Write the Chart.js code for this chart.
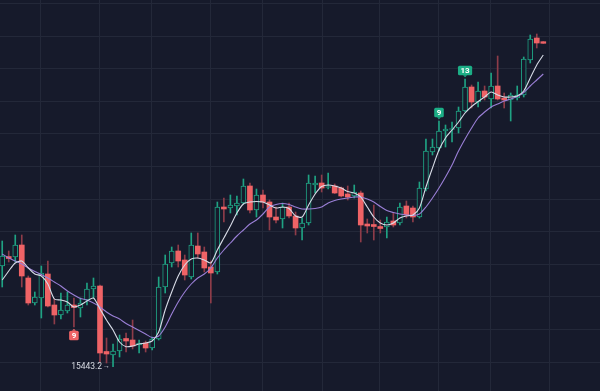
<!DOCTYPE html>
<html>
<head>
<meta charset="utf-8">
<script src="https://cdn.jsdelivr.net/npm/chart.js@4.4.0/dist/chart.umd.min.js"></script>
<style>
html,body{margin:0;padding:0;background:#161a2b;}
#wrap{width:600px;height:391px;}
</style>
</head>
<body>
<div id="wrap"><canvas id="kline" width="600" height="391"></canvas></div>
<script>
// candles (index 0..83), prices
const opens=[16450,16545,16540,16660,16330,16080,16130,16370,16060,15960,
  16000,16060,16030,16110,16220,16250,15595,15560,15600,15725,
  15710,15660,15680,15630,15720,16240,16480,16600,16510,16340,
  16650,16590,16440,16390,17040,17030,17050,17080,17250,17010,
  17160,17090,16940,16920,17040,16950,16830,16880,17260,17280,
  17235,17250,17230,17170,17150,17180,16870,16865,16845,16840,
  16900,16880,17050,17030,16940,17220,17590,17630,17800,17815,
  17830,18000,18240,18090,18200,18120,18250,18130,18110,18130,
  18160,18510,18730,18693];
const highs=[16700,16600,16760,16760,16350,16190,16450,16500,16120,16180,
  16190,16130,16130,16280,16330,16260,15730,15670,15760,15780,
  15910,15710,15700,15740,16340,16560,16640,16660,16560,16780,
  16780,16640,16500,17090,17130,17160,17150,17320,17280,17220,
  17210,17110,17040,17080,17080,16990,16930,17360,17350,17360,
  17380,17270,17240,17250,17260,17200,16920,17060,16910,16940,
  16980,17080,17100,17050,17290,17720,17720,17900,17860,17890,
  18040,18320,18260,18290,18250,18380,18550,18180,18180,18250,
  18540,18760,18770,18695];
const lows=[16240,16490,16490,16240,16060,16060,15930,16040,15870,15920,
  15980,15840,15940,16060,16130,15490,15480,15443.2,15540,15590,
  15620,15580,15590,15610,15710,16180,16440,16440,16310,16320,
  16530,16390,16080,16370,16890,16980,16960,17070,16980,16940,
  17030,16810,16880,16830,16930,16760,16710,16860,17180,17190,
  17220,17175,17140,17110,17130,16690,16780,16710,16780,16730,
  16840,16860,16930,16890,16930,17200,17560,17600,17640,17690,
  17780,17990,18030,18040,18110,18030,18110,18030,17900,18110,
  18140,18480,18630,18675];
const closes=[16550,16525,16660,16350,16080,16140,16380,16050,15960,16010,
  16060,16035,16080,16220,16250,15580,15570,15600,15720,15700,
  15650,15680,15630,15720,16240,16470,16600,16500,16360,16660,
  16570,16430,16380,17040,17020,17060,17080,17250,17010,17160,
  17090,16940,16910,17040,16950,16830,16880,17280,17280,17230,
  17245,17180,17150,17140,17190,16860,16850,16845,16825,16890,
  16860,17040,16960,16940,17230,17600,17640,17800,17820,17825,
  18000,18240,18090,18200,18140,18250,18120,18110,18160,18160,
  18520,18720,18680,18677];
// moving averages (white = fast, purple = slow)
const maFast=[16310,16400,16480,16500,16430,16370,16350,16270,16120,16110,
  16090,16040,16060,16100,16130,16020,15910,15810,15690,15643,
  15650,15670,15680,15700,15790,16010,16190,16350,16460,16520,
  16530,16510,16480,16610,16730,16850,16980,17070,17090,17095,
  17090,17060,17030,17040,17025,16950,16940,17060,17170,17245,
  17260,17250,17230,17195,17180,17140,17040,16940,16880,16860,
  16880,16930,16950,16960,17030,17240,17430,17610,17730,17810,
  17890,17980,18045,18095,18140,18190,18160,18140,18140,18150,
  18200,18330,18460,18560];
const maSlow=[16570,16530,16500,16470,16430,16395,16365,16330,16290,16250,
  16200,16160,16125,16110,16080,16040,15990,15950,15920,15875,
  15840,15805,15770,15735,15750,15840,15970,16090,16190,16270,
  16330,16370,16430,16530,16610,16680,16750,16810,16870,16910,
  16970,17040,17065,17075,17065,17040,17020,17020,17025,17040,
  17080,17105,17120,17130,17140,17140,17120,17090,17045,17005,
  16985,16970,16960,16955,16970,17040,17130,17230,17340,17460,
  17600,17720,17830,17930,17990,18040,18070,18100,18120,18145,
  18185,18250,18310,18370];
// grid positions
const xGrid=[5.9,14.9,22.9,32,39.9,49.1,57.8,66.9,74.9,83.9];
const yGrid=[15490,15816,16142,16468,16794,17120,17446,17772,18098,18424,18750,19076];
// sequence markers
const markIdx=[11,67,71];
const markText=['9','9','13'];
const markUp=[false,true,true];

const BG='#161a2b', GRID='#232839', UP='#1fa283', DOWN='#ef6366', DOWN_WICK='#8e3c49';
const isUp=i=>closes[i]>=opens[i];

const bodies=opens.map((o,i)=>({x:i,y:[o,closes[i]]}));
const wicks=lows.map((l,i)=>({x:i,y:[l,highs[i]]}));

const bgPlugin={id:'bg',beforeDraw(ch){const c=ch.ctx;c.save();c.fillStyle=BG;c.fillRect(0,0,ch.width,ch.height);c.restore();}};

const marks={id:'marks',afterDatasetsDraw(ch){
  const {ctx,scales:{x,y}}=ch;
  ctx.save();
  ctx.font='bold 8px Roboto';ctx.textAlign='center';ctx.textBaseline='middle';
  markIdx.forEach((idx,k)=>{
    const up=markUp[k], px=x.getPixelForValue(idx);
    const edge=up?y.getPixelForValue(highs[idx]):y.getPixelForValue(lows[idx]);
    const cy=up?edge-8.5:edge+8.5;
    const w=ctx.measureText(markText[k]).width+5, h=9.5;
    ctx.fillStyle=up?'#1cae86':DOWN;
    ctx.beginPath();ctx.roundRect(px-w/2,cy-h/2,w,h,1.5);ctx.fill();
    ctx.beginPath();
    if(up){ctx.moveTo(px-2,cy+h/2);ctx.lineTo(px+2,cy+h/2);ctx.lineTo(px,cy+h/2+2);}
    else{ctx.moveTo(px-2,cy-h/2);ctx.lineTo(px+2,cy-h/2);ctx.lineTo(px,cy-h/2-2);}
    ctx.fill();
    ctx.fillStyle='#ffffff';ctx.fillText(markText[k],px,cy+0.5);
  });
  // lowest low label
  let lo=0; lows.forEach((v,i)=>{if(v<lows[lo])lo=i;});
  const lx=x.getPixelForValue(lo), ly=y.getPixelForValue(lows[lo]);
  ctx.textAlign='right';ctx.fillStyle='#d8dbe3';
  ctx.font='7px Roboto';ctx.fillText('\u2192',lx-3,ly);
  ctx.font='8.5px Roboto';ctx.fillText(String(lows[lo]),lx-11,ly);
  ctx.restore();
}};

new Chart(document.getElementById('kline'),{
  type:'bar',
  data:{datasets:[
    {type:'line',data:maFast.map((v,i)=>({x:i,y:v})),borderColor:'#d7dbe6',borderWidth:1.1,pointRadius:0,tension:0.25,order:0},
    {type:'line',data:maSlow.map((v,i)=>({x:i,y:v})),borderColor:'#9a7fd6',borderWidth:1.1,pointRadius:0,tension:0.25,order:0},
    {data:bodies,grouped:false,barThickness:5,borderSkipped:false,order:1,
      backgroundColor:c=>isUp(c.dataIndex)?BG:DOWN,
      borderColor:c=>isUp(c.dataIndex)?UP:DOWN,
      borderWidth:c=>isUp(c.dataIndex)?1:0},
    {data:wicks,grouped:false,barThickness:1,borderSkipped:false,order:2,
      backgroundColor:c=>isUp(c.dataIndex)?UP:DOWN_WICK}
  ]},
  options:{
    responsive:false,animation:false,devicePixelRatio:1,
    layout:{padding:0},
    plugins:{legend:{display:false},tooltip:{enabled:false}},
    scales:{
      x:{type:'linear',min:-0.34,max:91.7,offset:false,
        afterBuildTicks:a=>{a.ticks=xGrid.map(v=>({value:v}));},
        ticks:{display:false},grid:{color:GRID,drawTicks:false,lineWidth:1,offset:false},border:{display:false}},
      y:{type:'linear',min:15200,max:19110,
        afterBuildTicks:a=>{a.ticks=yGrid.map(v=>({value:v}));},
        ticks:{display:false},grid:{color:GRID,drawTicks:false,lineWidth:1},border:{display:false}}
    }
  },
  plugins:[bgPlugin,marks]
});
</script>
</body>
</html>
